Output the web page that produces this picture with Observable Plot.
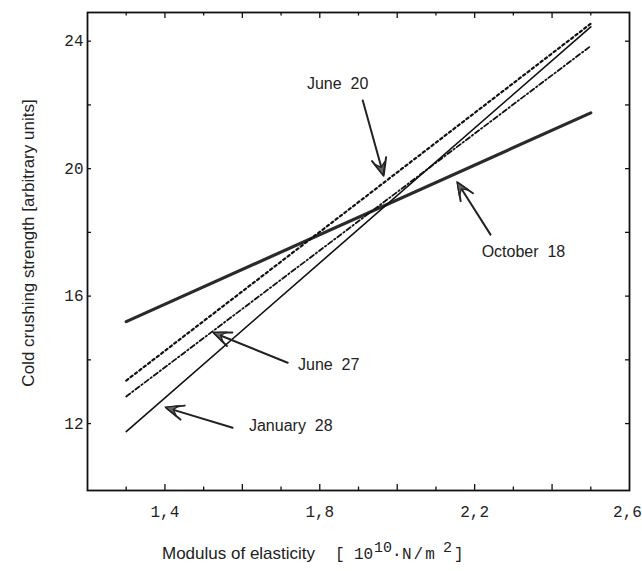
<!DOCTYPE html>
<html>
<head>
<meta charset="utf-8">
<script src="https://cdn.jsdelivr.net/npm/d3@7"></script>
<script src="https://cdn.jsdelivr.net/npm/@observablehq/plot@0.6"></script>
<style>
  html, body { margin: 0; padding: 0; background: #fff; overflow: hidden; }
</style>
</head>
<body>
<div id="chart"></div>
<script>
// ---- data ----
const xEnds = [1.3, 2.5];
const january28 = [11.75, 24.45];
const june20 = [13.35, 24.55];
const june27 = [12.85, 23.85];
const october18 = [15.2, 21.75];

const xTickLabels = [1.4, 1.8, 2.2];
const xTickLabelsEdge = [2.6];
const yTickLabels = [12, 16, 20, 24];
const xMajorTicks = [1.4, 1.6, 1.8, 2.0, 2.2, 2.4];
const xMinorTicks = [1.3, 1.5, 1.7, 1.9, 2.1, 2.3, 2.5];
const yTicks = [12, 14, 16, 18, 20, 22, 24];

const annotLabels = ["June\u00a0\u00a020", "October\u00a0\u00a018", "June\u00a0\u00a027", "January\u00a0\u00a028"];
const annotX = [1.846, 2.326, 1.823, 1.725];
const annotY = [22.67, 17.40, 13.85, 11.93];
const arrowX1 = [1.911, 2.241, 1.717, 1.575];
const arrowY1 = [22.14, 17.93, 13.91, 11.87];
const arrowX2 = [1.965, 2.156, 1.526, 1.403];
const arrowY2 = [19.78, 19.56, 14.85, 12.50];

// ---- layout ----
const W = 642, H = 571, mL = 87, mR = 13, mT = 12, mB = 81;
const pw = W - mL - mR, ph = H - mT - mB;

const rows = (vals) => xEnds.map((x, i) => ({x, y: vals[i]}));
const annots = annotLabels.map((t, i) => ({t, x: annotX[i], y: annotY[i]}));
const arrows = arrowX1.map((x1, i) => ({x1, y1: arrowY1[i], x2: arrowX2[i], y2: arrowY2[i]}));
const fmt = d => d.toFixed(1).replace(".", ",");

const chart = Plot.plot({
  width: W, height: H,
  marginLeft: mL, marginRight: mR, marginTop: mT, marginBottom: mB,
  x: {domain: [1.2, 2.6]},
  y: {domain: [9.9, 24.9]},
  style: {fontFamily: "Liberation Mono", fontSize: "16px", color: "#222", background: "#fff", overflow: "visible"},
  marks: [
    Plot.axisX({ticks: xTickLabels, tickSize: 0, tickPadding: 15, tickFormat: fmt, label: null}),
    Plot.axisX({ticks: xTickLabelsEdge, tickSize: 0, tickPadding: 15, tickFormat: fmt, label: null, dx: -2}),
    Plot.axisY({ticks: [], label: null}),
    Plot.text(yTickLabels, {y: d => d, frameAnchor: "left", dx: -4, textAnchor: "end", lineAnchor: "middle", text: d => String(d), fill: "#222"}),
    // inward ticks
    Plot.ruleX(xMajorTicks, {insetTop: ph - 6, stroke: "#111", strokeWidth: 1.3}),
    Plot.ruleX(xMinorTicks, {insetTop: ph - 3.5, stroke: "#111", strokeWidth: 1.3}),
    Plot.ruleX(xMajorTicks, {insetBottom: ph - 6, stroke: "#111", strokeWidth: 1.3}),
    Plot.ruleX(xMinorTicks, {insetBottom: ph - 3.5, stroke: "#111", strokeWidth: 1.3}),
    Plot.ruleY(yTicks, {insetRight: pw - 4, stroke: "#111", strokeWidth: 1.3}),
    Plot.ruleY(yTicks, {insetLeft: pw - 4, stroke: "#111", strokeWidth: 1.3}),
    Plot.frame({stroke: "#111", strokeWidth: 1.8}),
    // series
    Plot.line(rows(october18), {x: "x", y: "y", stroke: "#2a2a2a", strokeWidth: 3.2}),
    Plot.line(rows(june20), {x: "x", y: "y", stroke: "#111", strokeWidth: 2.2, strokeDasharray: "2.5,3"}),
    Plot.line(rows(june27), {x: "x", y: "y", stroke: "#111", strokeWidth: 1.8, strokeDasharray: "5,2.5,1.5,2.5"}),
    Plot.line(rows(january28), {x: "x", y: "y", stroke: "#111", strokeWidth: 1.6}),
    // annotations
    Plot.arrow(arrows, {x1: "x1", y1: "y1", x2: "x2", y2: "y2", stroke: "#222", strokeWidth: 2, headLength: 14, headAngle: 46}),
    Plot.text(annots, {x: "x", y: "y", text: "t", fontFamily: "Liberation Sans", fontSize: 16, fill: "#222", textAnchor: "middle"})
  ]
});

document.getElementById("chart").appendChild(chart);

const svg = d3.select(chart);

// filled arrow heads, placed through the chart's own scales
const sx = chart.scale("x"), sy = chart.scale("y");
const heads = svg.append("g").attr("aria-label", "arrow-heads");
arrows.forEach(a => {
  const px1 = sx.apply(a.x1), py1 = sy.apply(a.y1);
  const px2 = sx.apply(a.x2), py2 = sy.apply(a.y2);
  const ang = Math.atan2(py2 - py1, px2 - px1);
  const len = 14, half = 23 * Math.PI / 180, notch = 8;
  const e = [px2 - len * Math.cos(ang - half), py2 - len * Math.sin(ang - half)];
  const g = [px2 - len * Math.cos(ang + half), py2 - len * Math.sin(ang + half)];
  const n = [px2 - notch * Math.cos(ang), py2 - notch * Math.sin(ang)];
  heads.append("path")
    .attr("d", `M${e[0]},${e[1]}L${px2},${py2}L${g[0]},${g[1]}L${n[0]},${n[1]}Z`)
    .attr("fill", "#666")
    .attr("stroke", "#222")
    .attr("stroke-width", 1.3)
    .attr("stroke-linejoin", "miter");
});

// y-axis title
svg.append("text")
  .attr("transform", "translate(28,243) rotate(-90)")
  .attr("text-anchor", "middle")
  .attr("dominant-baseline", "central")
  .attr("font-family", "Liberation Sans")
  .attr("font-size", 17)
  .attr("fill", "#222")
  .text("Cold crushing strength [arbitrary units]");

// x-axis title
const xt = svg.append("text")
  .attr("y", 559)
  .attr("text-anchor", "start")
  .attr("fill", "#222");
xt.append("tspan").attr("x", 162).attr("font-family", "Liberation Sans").attr("font-size", 17).text("Modulus of elasticity");
xt.append("tspan").attr("x", 335).attr("font-family", "Liberation Mono").attr("font-size", 16).text("[");
xt.append("tspan").attr("x", 354).attr("font-family", "Liberation Mono").attr("font-size", 16).text("10");
xt.append("tspan").attr("x", 374).attr("dy", -7).attr("font-family", "Liberation Mono").attr("font-size", 15).text("10");
xt.append("tspan").attr("x", 392).attr("dy", 7).attr("font-family", "Liberation Mono").attr("font-size", 16).text("\u00b7");
xt.append("tspan").attr("x", 402).attr("font-family", "Liberation Mono").attr("font-size", 16).attr("letter-spacing", 2).text("N/m");
xt.append("tspan").attr("x", 443).attr("dy", -7).attr("font-family", "Liberation Mono").attr("font-size", 15).text("2");
xt.append("tspan").attr("x", 454).attr("dy", 7).attr("font-family", "Liberation Mono").attr("font-size", 16).text("]");
</script>
</body>
</html>
